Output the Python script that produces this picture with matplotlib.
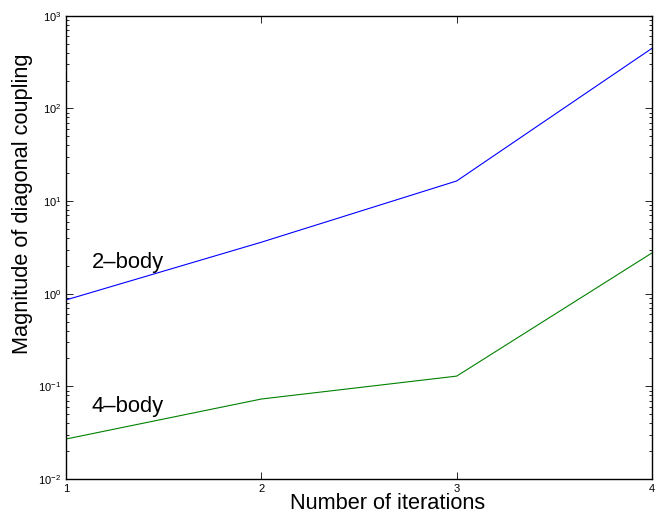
import matplotlib
matplotlib.use('Agg')
import matplotlib.pyplot as plt
import numpy as np

plt.rcParams['font.family'] = ['Liberation Sans', 'DejaVu Sans']
plt.rcParams['mathtext.fontset'] = 'custom'
plt.rcParams['mathtext.rm'] = 'Liberation Sans'
plt.rcParams['mathtext.it'] = 'Liberation Sans'

# data
iterations = [1, 2, 3, 4]
two_body = [0.857, 3.6, 16.5, 447]
four_body = [0.027, 0.073, 0.129, 2.76]

fig = plt.figure(figsize=(6.64, 5.12), dpi=100)
ax = fig.add_axes([0.0994, 0.0645, 0.8826, 0.9045])

ax.semilogy(iterations, two_body, color='#0000ff', lw=0.8)
ax.semilogy(iterations, four_body, color='#008000', lw=0.8)

ax.set_xlim(1, 4)
ax.set_ylim(1e-2, 1e3)
ax.set_xticks(iterations)

ax.tick_params(which='both', direction='in', top=True, right=True,
               labelsize=8, width=0.6)
ax.tick_params(which='major', length=5)
ax.tick_params(which='minor', length=2.5)
for s in ax.spines.values():
    s.set_linewidth(1.0)

ax.text(1.132, 1.90, '2\u2013body', fontsize=15.8, va='baseline')
ax.text(1.132, 0.0533, '4\u2013body', fontsize=15.8, va='baseline')

ax.set_xlabel('Number of iterations', fontsize=15.7)
ax.xaxis.set_label_coords(0.548, -0.030, transform=ax.transAxes)
ax.xaxis.label.set_va('top')
ax.set_ylabel('Magnitude of diagonal coupling', fontsize=15.7)
ax.yaxis.set_label_coords(-0.057, 0.594, transform=ax.transAxes)

fig.savefig('out.png', dpi=100)
